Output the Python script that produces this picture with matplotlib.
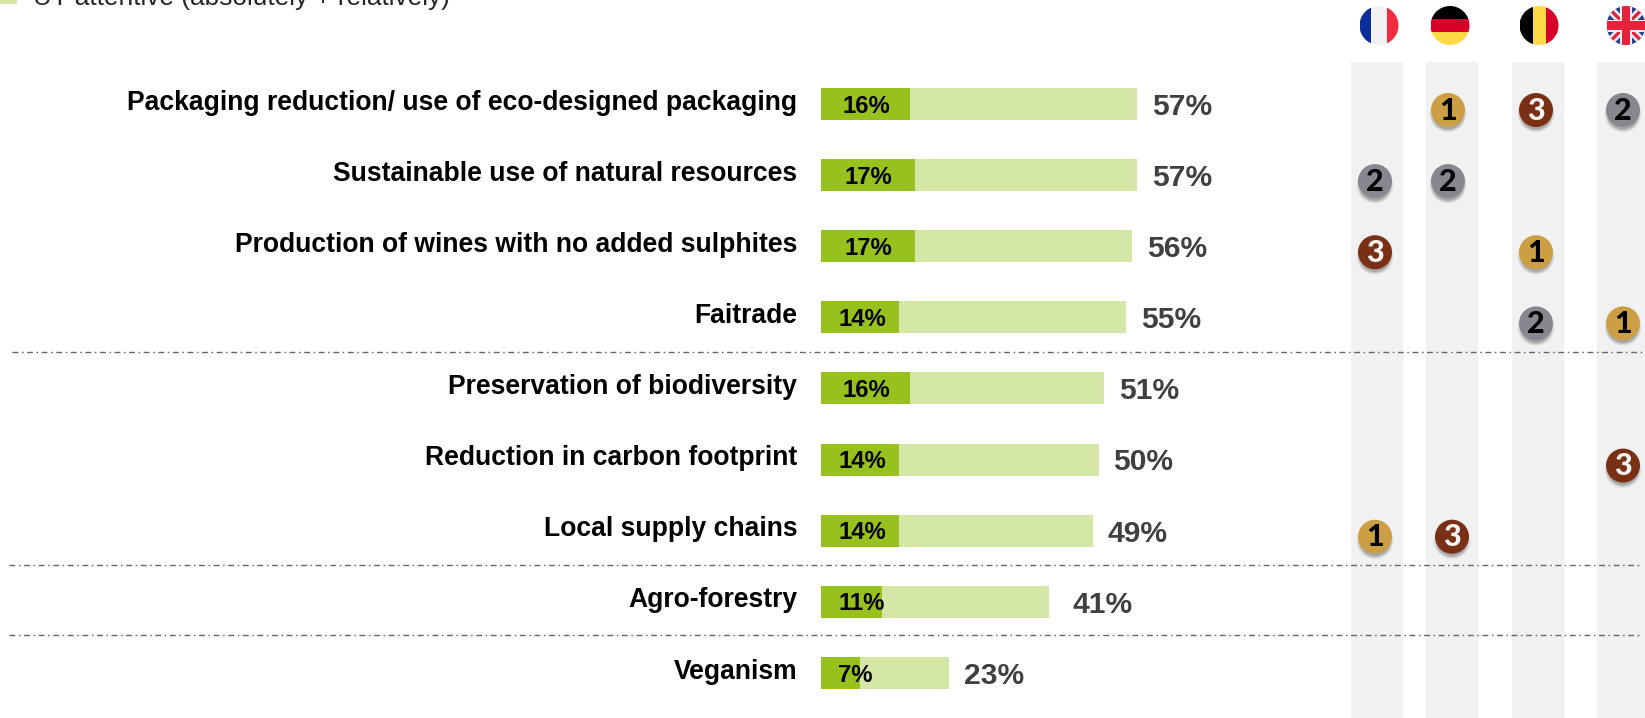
import matplotlib
matplotlib.use("Agg")
import matplotlib.pyplot as plt
from matplotlib.patches import Circle, Rectangle

W, H = 1645, 718

topics = [
    "Packaging reduction/ use of eco-designed packaging",
    "Sustainable use of natural resources",
    "Production of wines with no added sulphites",
    "Faitrade",
    "Preservation of biodiversity",
    "Reduction in carbon footprint",
    "Local supply chains",
    "Agro-forestry",
    "Veganism",
]
very_attentive = [16, 17, 17, 14, 16, 14, 14, 11, 7]
attentive = [57, 57, 56, 55, 51, 50, 49, 41, 23]

# top three topics per country as {row: rank}
rank_fr = {1: 2, 2: 3, 6: 1}
rank_de = {0: 1, 1: 2, 6: 3}
rank_be = {0: 3, 2: 1, 3: 2}
rank_uk = {0: 2, 3: 1, 5: 3}

LIGHT = "#d5e7a6"
DARK = "#97c11c"
GREY_TXT = "#404040"

plt.rcParams["font.family"] = "Liberation Sans"

fig = plt.figure(figsize=(W / 100, H / 100), dpi=100)

# overlay in pixel units, y pointing down
px = fig.add_axes([0, 0, 1, 1])
px.set_xlim(0, W)
px.set_ylim(H, 0)
px.axis("off")

# bar axes: 1% is 5.55 px wide, one row is about 71 px high
bar_left = 821
pct_px = 5.55
row_px = 71.12
first_row = 104
n = len(topics)
top_px = first_row - row_px / 2
ax = fig.add_axes([bar_left / W, 1 - (top_px + n * row_px) / H, 100 * pct_px / W, n * row_px / H])
ax.set_xlim(0, 100)
ax.set_ylim(n - 0.5, -0.5)
ax.axis("off")
ax.patch.set_alpha(0)

rows = list(range(n))
bar_h = 32 / row_px
ax.barh(rows, attentive, height=bar_h, color=LIGHT, zorder=2)
ax.barh(rows, very_attentive, height=bar_h, color=DARK, zorder=3)

# small bars get their inner label pushed towards the right end
inner_x = [8.1, 8.6, 8.6, 7.4, 8.1, 7.4, 7.4, 7.4, 6.2]
# the 41% label sits a bit further away from its bar
outer_gap = [2.7, 2.7, 2.7, 2.7, 2.7, 2.7, 2.7, 4.4, 2.7]
for i in rows:
    ax.text(inner_x[i], i + 0.03, f"{very_attentive[i]}%", ha="center", va="center",
            fontsize=17.2, fontweight="bold", color="black", zorder=4)
    ax.text(attentive[i] + outer_gap[i], i + 0.04, f"{attentive[i]}%", ha="left", va="center",
            fontsize=21.6, fontweight="bold", color=GREY_TXT, zorder=4)
    ax.text(-4.3, i - 0.02, topics[i], ha="right", va="center",
            fontsize=19.1, fontweight="bold", color="black", zorder=4)

# legend, cut by the top edge
px.add_patch(Rectangle((0, -6), 16, 9, color=LIGHT))
px.text(33, 4.5, "UT attentive (absolutely + relatively)", ha="left", va="baseline",
        fontsize=18.9, color="#262626")

# grey country columns
for x0 in [1351, 1426, 1512, 1597]:
    px.add_patch(Rectangle((x0, 62), 52, H - 62, color="#f1f1f1", lw=0, zorder=0))

# separators between the topic groups
for y, x0, x1 in [(352, 12, 1645), (565, 9, 1642), (635, 9, 1642)]:
    px.plot([x0, x1], [y, y], color="#666666", lw=1.0, linestyle=(0, (4.2, 2.6, 1.1, 2.6)), zorder=1)


def flag_fr(cx, cy, r, clip):
    for x0, w, c in [(-1, 0.6, "#0a2f9c"), (-0.4, 0.8, "#f2f2f4"), (0.4, 0.6, "#ef2b3d")]:
        p = Rectangle((cx + x0 * r, cy - r), w * r, 2 * r, color=c, lw=0)
        px.add_patch(p)
        p.set_clip_path(clip)


def flag_de(cx, cy, r, clip):
    for y0, c in [(-1, "#000000"), (-1 / 3, "#d80027"), (1 / 3, "#ffda44")]:
        p = Rectangle((cx - r, cy + y0 * r), 2 * r, 2 * r / 3, color=c, lw=0)
        px.add_patch(p)
        p.set_clip_path(clip)


def flag_be(cx, cy, r, clip):
    for x0, c in [(-1, "#000000"), (-1 / 3, "#ffda44"), (1 / 3, "#d80027")]:
        p = Rectangle((cx + x0 * r, cy - r), 2 * r / 3, 2 * r, color=c, lw=0)
        px.add_patch(p)
        p.set_clip_path(clip)


def flag_uk(cx, cy, r, clip):
    bg = Rectangle((cx - r, cy - r), 2 * r, 2 * r, color="#2b3d8f", lw=0, zorder=2)
    px.add_patch(bg)
    bg.set_clip_path(clip)
    for sx in (1, -1):
        for lw, c in [(6, "#f0f0f0"), (2.4, "#e8213c")]:
            ln, = px.plot([cx - sx * r, cx + sx * r], [cy - r, cy + r], color=c, lw=lw,
                          solid_capstyle="butt", zorder=3)
            ln.set_clip_path(clip)
    # the upright cross goes over the diagonals
    for half, c, z in [(6, "#f0f0f0", 4), (4.3, "#e8213c", 5)]:
        for rect in [(cx - r, cy - half, 2 * r, 2 * half), (cx - half, cy - r, 2 * half, 2 * r)]:
            p = Rectangle(rect[:2], rect[2], rect[3], color=c, lw=0, zorder=z)
            px.add_patch(p)
            p.set_clip_path(clip)


for cx, fn in [(1379, flag_fr), (1450, flag_de), (1539, flag_be), (1626, flag_uk)]:
    clip = Circle((cx, 25.5), 19.5, transform=px.transData)
    fn(cx, 25.5, 19.5, clip)

RANK_COL = {1: "#cc9f45", 2: "#86878f", 3: "#7a3014"}
RANK_TXT = {1: "black", 2: "black", 3: "#f4f4f4"}


def badge(cx, cy, rank):
    # soft drop shadow under the disc
    for grow, a in [(1.5, 0.05), (0.5, 0.07), (-0.5, 0.09), (-1.5, 0.12)]:
        px.add_patch(Circle((cx, cy + 4), 17 + grow, color="black", alpha=a, lw=0, zorder=6))
    px.add_patch(Circle((cx, cy), 17, color=RANK_COL[rank], lw=0, zorder=7))
    px.text(cx, cy + 0.5, str(rank), ha="center", va="center", fontsize=22, fontweight="black",
            family="Lato", color=RANK_TXT[rank], zorder=8)


for ranks, cx in [(rank_fr, 1375), (rank_de, 1448), (rank_be, 1536), (rank_uk, 1623)]:
    for row, rank in ranks.items():
        # the German rank 3 sits a little further right than the rest of its column
        x = 1452 if ranks is rank_de and rank == 3 else cx
        badge(x, first_row + row * row_px + 6, rank)

fig.savefig("out.png", dpi=100)
